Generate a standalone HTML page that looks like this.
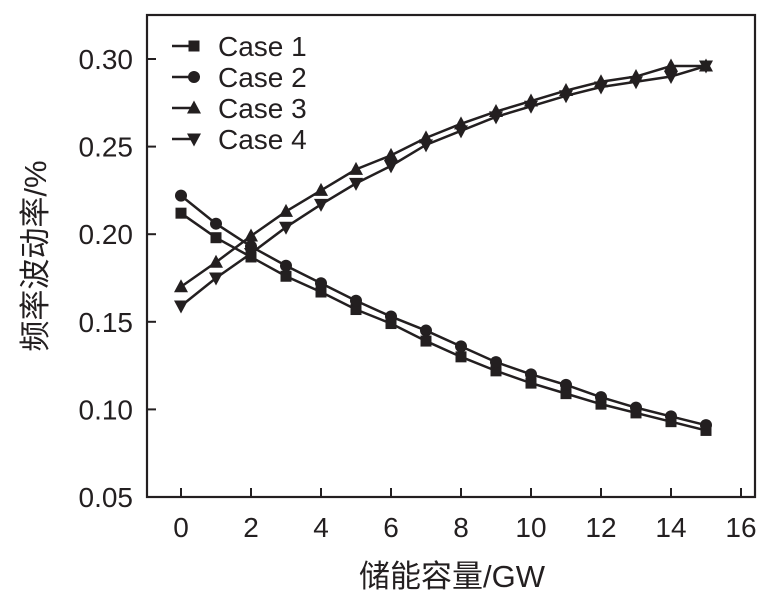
<!DOCTYPE html>
<html><head><meta charset="utf-8"><style>
body{margin:0;background:#fff;}
svg text{font-family:"Liberation Sans","Noto Sans CJK SC",sans-serif;fill:#231f20;}
</style></head><body>
<svg id="c" width="762" height="595" xmlns="http://www.w3.org/2000/svg"></svg>
<script>
const xValues=[0,1,2,3,4,5,6,7,8,9,10,11,12,13,14,15];
const case1=[0.212,0.198,0.187,0.176,0.167,0.157,0.149,0.139,0.130,0.122,0.115,0.109,0.103,0.098,0.093,0.088];
const case2=[0.222,0.206,0.193,0.182,0.172,0.162,0.153,0.145,0.136,0.127,0.120,0.114,0.107,0.101,0.096,0.091];
const case3=[0.170,0.184,0.199,0.213,0.225,0.237,0.245,0.255,0.263,0.270,0.276,0.282,0.287,0.290,0.296,0.296];
const case4=[0.159,0.175,0.189,0.204,0.217,0.229,0.239,0.251,0.259,0.267,0.273,0.279,0.284,0.287,0.290,0.296];
const xTicks=[0,2,4,6,8,10,12,14,16];
const yTicks=[0.05,0.10,0.15,0.20,0.25,0.30];
const seriesNames=["Case 1","Case 2","Case 3","Case 4"];

const svg=document.getElementById('c');
const NS='http://www.w3.org/2000/svg';
const L=147,R=755,T=15,B=497;
const xs=v=>181+v*35;
const ys=v=>497-(v-0.05)/0.05*87.6;
function mk(tag,attrs,parent){const e=document.createElementNS(NS,tag);for(const k in attrs)e.setAttribute(k,attrs[k]);(parent||svg).appendChild(e);return e;}

const frame=mk('rect',{x:L,y:T,width:R-L,height:B-T,fill:'none',stroke:'#231f20','stroke-width':2.2});



xTicks.forEach(t=>{
  const l=mk('line',{x1:xs(t),x2:xs(t),y1:B,y2:B-9,stroke:'#231f20','stroke-width':2});
  
  
  const tx=mk('text',{x:xs(t),y:537,'text-anchor':'middle','font-size':28});
  tx.textContent=t;
  
  
});
yTicks.forEach(t=>{
  const l=mk('line',{x1:L,x2:L+9,y1:ys(t),y2:ys(t),stroke:'#231f20','stroke-width':2});
  
  
  const tx=mk('text',{x:133,y:ys(t)+10,'text-anchor':'end','font-size':28});
  tx.textContent=t.toFixed(2);
  
  
});
const xt=mk('text',{x:452,y:587,'text-anchor':'middle','font-size':31});
xt.textContent='储能容量/GW';


const yt=mk('text',{x:0,y:0,'text-anchor':'middle','font-size':31,transform:'translate(46,256) rotate(-90)'});
yt.textContent='频率波动率/%';



function marker(type,x,y,g){
  if(type===0)return mk('rect',{x:x-5.5,y:y-5.5,width:11,height:11,fill:'#231f20'},g);
  if(type===1)return mk('circle',{cx:x,cy:y,r:6,fill:'#231f20'},g);
  if(type===2)return mk('polygon',{points:`${x},${y-7.5} ${x-7},${y+5.5} ${x+7},${y+5.5}`,fill:'#231f20'},g);
  return mk('polygon',{points:`${x},${y+7.5} ${x-7},${y-5.5} ${x+7},${y-5.5}`,fill:'#231f20'},g);
}
[case1,case2,case3,case4].forEach((s,i)=>{
  const g=mk('g',{});
  
  
  const p=mk('polyline',{points:s.map((v,j)=>xs(xValues[j])+','+ys(v)).join(' '),fill:'none',stroke:'#231f20','stroke-width':2.5},g);
  
  
  s.forEach((v,j)=>{
    const m=marker(i,xs(xValues[j]),ys(v),g);
    
    
  });
  const ly=46+i*31;
  const lg=mk('g',{});
  
  
  mk('line',{x1:172,x2:196,y1:ly,y2:ly,stroke:'#231f20','stroke-width':2.5},lg);
  marker(i,194,ly,lg);
  const t=mk('text',{x:218,y:ly+10,'font-size':28},lg);
  t.textContent=seriesNames[i];
});
</script>
</body></html>
